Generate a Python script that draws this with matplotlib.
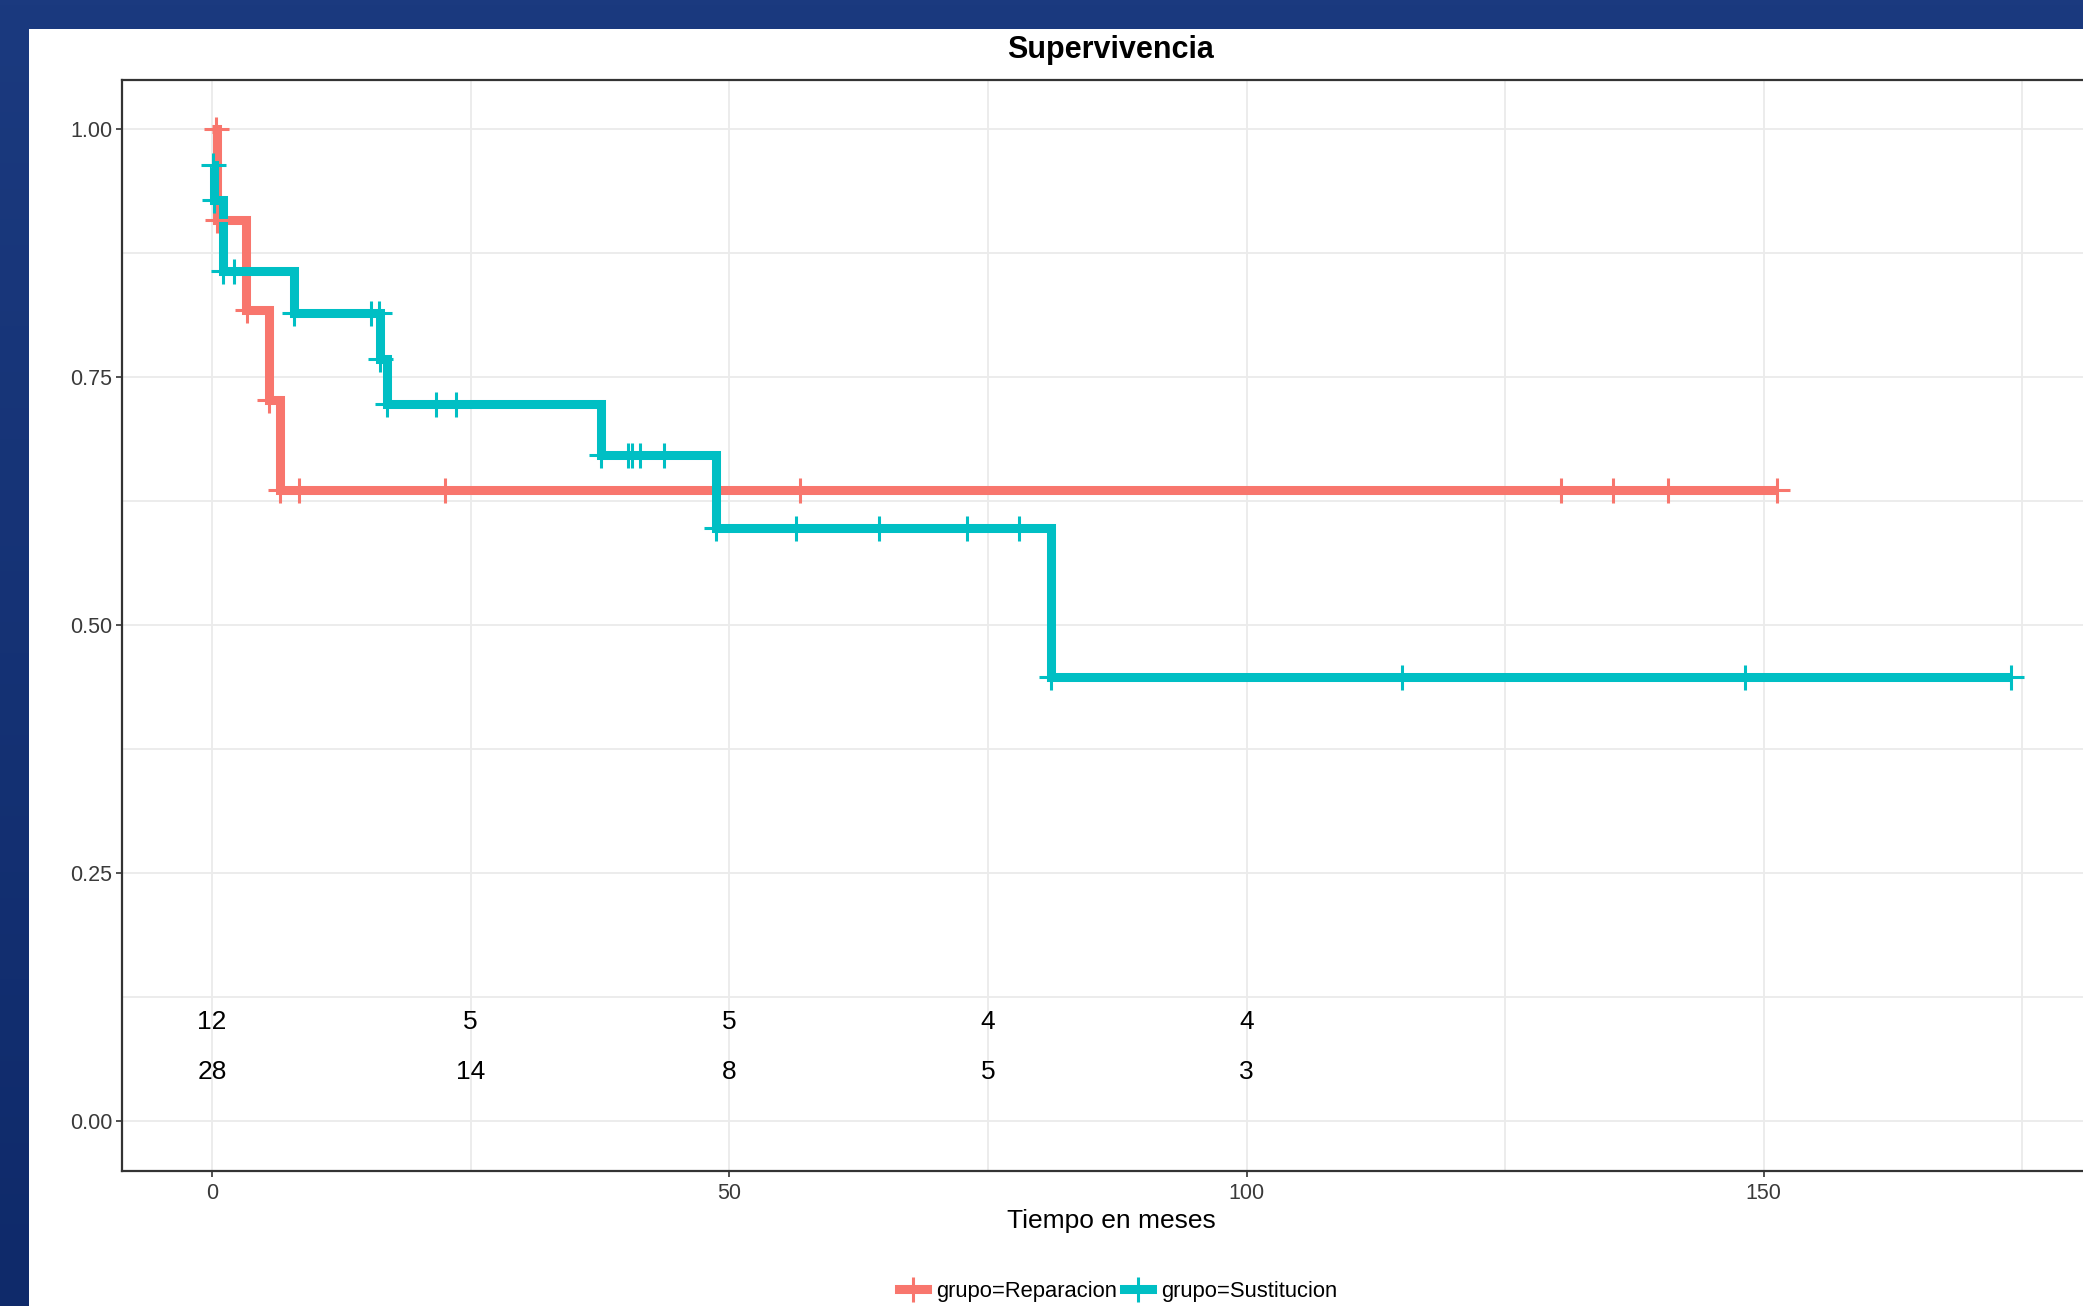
import numpy as np
import matplotlib.pyplot as plt
from matplotlib.patches import Rectangle
from matplotlib.colors import LinearSegmentedColormap

plt.rcParams['font.family'] = ['Liberation Sans', 'DejaVu Sans']

W, H = 2083, 1306

# Kaplan-Meier curves (step start times / survival levels)
rep_t = [0, 0.5, 3.3, 5.5, 6.6]
rep_s = [1.0, 0.909, 0.818, 0.727, 0.636]
rep_end = 151.3
rep_cens = [0.35, 0.5, 3.35, 5.55, 6.6, 8.4, 22.5, 56.8, 130.4, 135.4, 140.7, 151.3]

sus_t = [0, 0.2, 1.1, 7.9, 16.2, 16.9, 37.6, 48.7, 81.1]
sus_s = [0.964, 0.929, 0.857, 0.815, 0.768, 0.723, 0.672, 0.598, 0.448]
sus_end = 173.9
sus_cens = [0.1, 0.2, 1.1, 2.1, 7.9, 15.4, 16.1, 16.2, 16.9, 21.7, 23.55,
            37.6, 40.2, 40.6, 41.4, 43.7, 48.7, 56.5, 64.5, 73.0, 78.0,
            81.1, 115.0, 148.2, 173.9]

# numero en riesgo
risk_t = [0, 25, 50, 75, 100]
risk_rep = [12, 5, 5, 4, 4]
risk_sus = [28, 14, 8, 5, 3]

groups = ["grupo=Reparacion", "grupo=Sustitucion"]
colors = ["#F8766D", "#00BFC4"]


def surv_at(times, surv, t):
    idx = np.searchsorted(times, t, side="right") - 1
    return np.asarray(surv)[idx]


fig = plt.figure(figsize=(W / 100, H / 100), dpi=100)

# fondo azul con degradado + panel blanco
bg = fig.add_axes([0, 0, 1, 1], zorder=-10)
grad = np.linspace(0, 1, 256).reshape(-1, 1)
cm = LinearSegmentedColormap.from_list("bg", ["#1b3a7f", "#0f2a6a"])
bg.imshow(grad, aspect="auto", cmap=cm, extent=[0, 1, 0, 1])
bg.add_patch(Rectangle((29 / W, 0), 1, 1 - 29 / H, facecolor="white", edgecolor="none"))
bg.set_xlim(0, 1)
bg.set_ylim(0, 1)
bg.axis("off")

ax = fig.add_axes([122 / W, 135.1 / H, 1979 / W, 1091.2 / H])
ax.set_facecolor("white")

for (t, s, end, cens), name, col in zip(
        [(rep_t, rep_s, rep_end, rep_cens), (sus_t, sus_s, sus_end, sus_cens)],
        groups, colors):
    xs = list(t) + [end]
    ys = list(s) + [s[-1]]
    ax.step(xs, ys, where="post", color=col, lw=6.5,
            solid_joinstyle="miter", solid_capstyle="butt", zorder=3)
    ax.plot(cens, surv_at(t, s, cens), "+", color=col, ms=18, mew=2.2, zorder=4)
    ax.plot([], [], color=col, lw=6.5, marker="+", ms=18, mew=2.2, label=name)

for t, a, b in zip(risk_t, risk_rep, risk_sus):
    ax.text(t, 0.1, str(a), ha="center", va="center", fontsize=19, color="black")
    ax.text(t, 0.05, str(b), ha="center", va="center", fontsize=19, color="black")

ax.set_xlim(-8.7, 182.6)
ax.set_ylim(-0.05, 1.05)
ax.set_xticks([0, 50, 100, 150])
ax.set_xticks([25, 75, 125, 175], minor=True)
ax.set_yticks([0, 0.25, 0.5, 0.75, 1.0])
ax.set_yticks([0.125, 0.375, 0.625, 0.875], minor=True)
ax.set_yticklabels(["0.00", "0.25", "0.50", "0.75", "1.00"])
ax.grid(True, which="both", color="#EBEBEB", lw=1.3, zorder=0)
ax.set_axisbelow(True)
ax.tick_params(which="major", labelsize=15.5, labelcolor="#3A3A3A", color="#333333",
               length=4, width=1.2, pad=3)
ax.tick_params(axis="x", which="major", pad=5)
ax.tick_params(which="minor", length=0)
for sp in ax.spines.values():
    sp.set_color("#333333")
    sp.set_linewidth(1.6)

ax.text(0.5, -0.0459, "Tiempo en meses", transform=ax.transAxes, ha="center",
        va="center", fontsize=19, color="black")
fig.text(1111 / W, 1 - 50 / H, "Supervivencia", ha="center", va="center",
         fontsize=22, fontweight="bold", color="black")

fig.legend(loc="center", bbox_to_anchor=(1118 / W, 15 / H), ncol=2, frameon=False,
           fontsize=15.8, handlelength=1.3, handletextpad=0.4, columnspacing=0.3)

fig.savefig("out.png", dpi=100)
